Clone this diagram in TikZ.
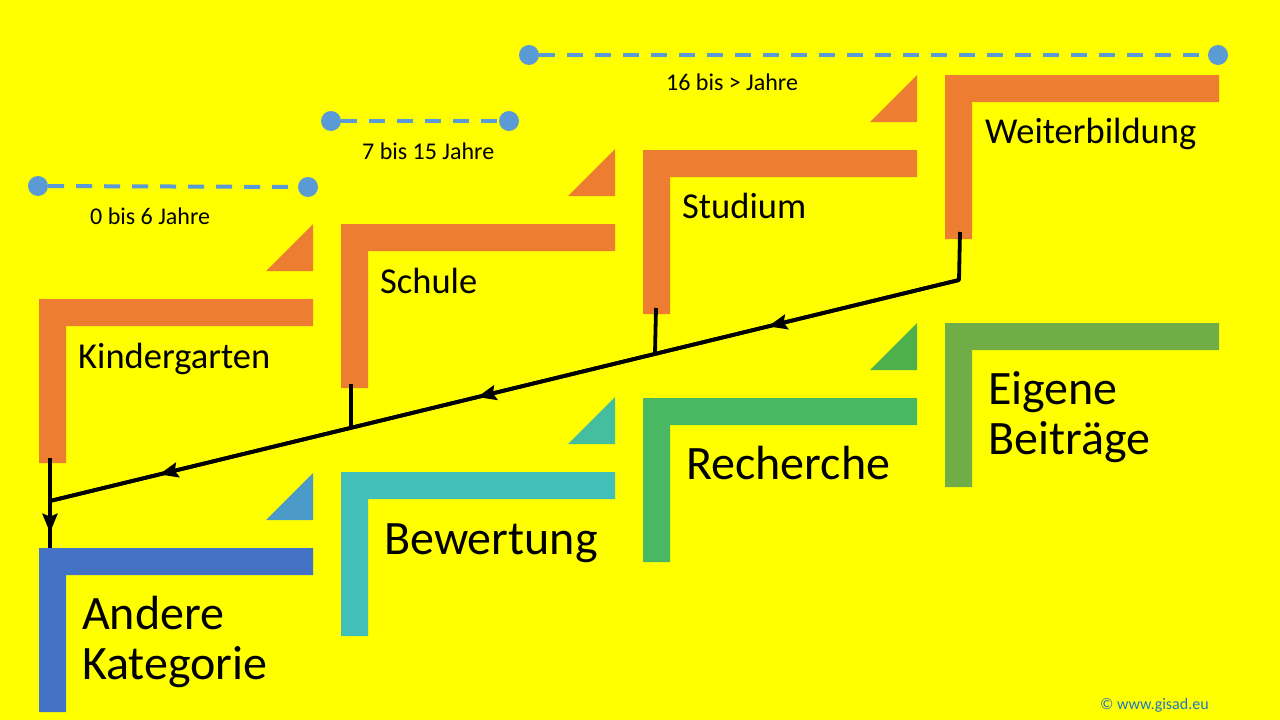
\documentclass[tikz,border=0pt]{standalone}
\usepackage{fontspec}
\setmainfont{Carlito}
\usetikzlibrary{arrows.meta,decorations.markings}
\definecolor{hgelb}{RGB}{255,255,0}
\definecolor{korange}{RGB}{237,125,49}
\definecolor{kblau}{RGB}{68,114,196}
\definecolor{kblautri}{RGB}{74,153,198}
\definecolor{ktuerkis}{RGB}{67,191,185}
\definecolor{ktuerkistri}{RGB}{68,190,158}
\definecolor{kgruen}{RGB}{74,184,98}
\definecolor{kgruentri}{RGB}{78,176,74}
\definecolor{koliv}{RGB}{112,173,71}
\definecolor{zeitblau}{RGB}{91,155,213}
\definecolor{copyblau}{RGB}{31,120,192}

\tikzset{
	zeitlinie/.style={draw=zeitblau, line width=4pt, dash pattern=on 16pt off 12pt},
	punkt/.style={circle, fill=zeitblau, inner sep=0pt, minimum size=20pt},
	zeittext/.style={anchor=base west, inner sep=0pt, font=\fontsize{24}{28}\selectfont},
	stufentext/.style={anchor=base west, inner sep=0pt, font=\fontsize{36.5}{40}\selectfont},
	bereichtext/.style={anchor=base west, inner sep=0pt, align=left, font=\fontsize{48}{50}\selectfont},
	verbindung/.style={draw=black, line width=3.8pt},
	spitze/.tip={Stealth[length=19pt, width=15pt, inset=3pt]},
	pfeilmitte/.style={postaction={decorate}, decoration={markings, mark=at position #1 with {\arrow{spitze}}}}
}

\begin{document}
\begin{tikzpicture}[x=1pt,y=-1pt]
		\fill[hgelb] (0,0) rectangle (1280,720);

		% Stufen
		\foreach \x/\y/\farbe in {39/299/korange, 341/224/korange, 643/150/korange, 945/75/korange, 39/548/kblau, 341/472/ktuerkis, 643/398/kgruen, 945/323/koliv}
			\fill[\farbe] (\x,\y) -- ++(274,0) -- ++(0,27) -- ++(-247,0) -- ++(0,137) -- ++(-27,0) -- cycle;

		\foreach \x/\y/\farbe in {39/299/korange, 341/224/korange, 643/150/korange, 39/548/kblautri, 341/472/ktuerkistri, 643/398/kgruentri}
			\fill[\farbe] (\x+227,\y-28) -- (\x+274,\y-28) -- (\x+274,\y-75) -- cycle;

		% Zeitraeume
		\node[punkt] (z0a) at (38,186) {};
		\node[punkt] (z0b) at (308,187) {};
		\draw[zeitlinie] (z0a) -- (z0b);
		\node[zeittext] (tz0) at (90,224) {0 bis 6 Jahre};

		\node[punkt] (z1a) at (331,121) {};
		\node[punkt] (z1b) at (509,121) {};
		\draw[zeitlinie] (z1a) -- (z1b);
		\node[zeittext] (tz1) at (362,159) {7 bis 15 Jahre};

		\node[punkt] (z2a) at (529,55) {};
		\node[punkt] (z2b) at (1218,55) {};
		\draw[zeitlinie] (z2a) -- (z2b);
		\node[zeittext] (tz2) at (666,90) {16 bis > Jahre};

		% Texte
		\node[stufentext] (tkg) at (78,368) {Kindergarten};
		\node[stufentext] (tsc) at (380,293) {Schule};
		\node[stufentext] (tst) at (682,218) {Studium};
		\node[stufentext] (twb) at (985,143) {Weiterbildung};

		\node[bereichtext] (tak) at (82,679) {Andere\\Kategorie};
		\node[bereichtext] (tbw) at (384,554) {Bewertung};
		\node[bereichtext] (tre) at (686,479) {Recherche};
		\node[bereichtext] (teb) at (988,454) {Eigene\\Beiträge};

		\node[anchor=base west, inner sep=0pt, text=copyblau, font=\fontsize{16}{18}\selectfont] (copy) at (1100,709) {© www.gisad.eu};

		% Verbindungen
		\coordinate (ewb) at (960,232);
		\coordinate (j3) at (959,280);
		\coordinate (est) at (656,308);
		\coordinate (j2) at (655,353);
		\coordinate (esc) at (351,384);
		\coordinate (j1) at (351,428);
		\coordinate (ekg) at (50,458);
		\coordinate (j0) at (50,501);
		\coordinate (eak) at (50,548);

		\draw[verbindung, line join=round] (ewb) -- (j3) -- (j0);
		\draw[verbindung, postaction={decorate}, decoration={markings,
			mark=at position 0.21 with {\arrow{spitze}},
			mark=at position 0.53 with {\arrow{spitze}},
			mark=at position 0.88 with {\arrow{spitze}}}] (j3) -- (j0);
		\draw[verbindung] (est) -- (j2);
		\draw[verbindung] (esc) -- (j1);
		\draw[verbindung, pfeilmitte=0.83] (ekg) -- (eak);
	\end{tikzpicture}
\end{document}
